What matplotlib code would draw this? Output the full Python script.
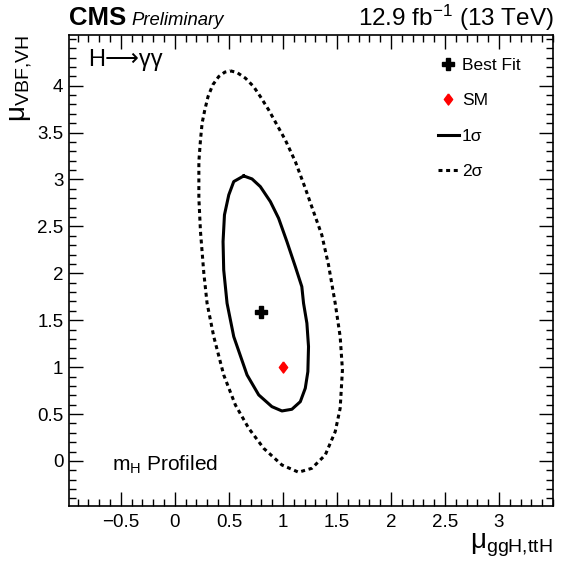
import numpy as np
import matplotlib
matplotlib.use("Agg")
import matplotlib.pyplot as plt
from matplotlib.lines import Line2D
from matplotlib.ticker import MultipleLocator

plt.rcParams['font.family'] = ['Liberation Sans', 'DejaVu Sans']
plt.rcParams['mathtext.fontset'] = 'custom'
plt.rcParams['mathtext.rm'] = 'Liberation Sans'
plt.rcParams['mathtext.it'] = 'Liberation Sans:italic'

# contour points (mu_ggH,ttH , mu_VBF,VH)
sig1_x = [0.637, 0.714, 0.791, 0.884, 0.960, 1.037, 1.115, 1.175, 1.191, 1.222, 1.237,
          1.231, 1.207, 1.161, 1.083, 0.991, 0.898, 0.776, 0.668, 0.545, 0.483, 0.452,
          0.446, 0.459, 0.499, 0.545, 0.637]
sig1_y = [3.038, 3.006, 2.924, 2.764, 2.587, 2.338, 2.071, 1.858, 1.681, 1.468, 1.219,
          0.952, 0.775, 0.632, 0.551, 0.533, 0.579, 0.704, 0.917, 1.325, 1.681, 2.036,
          2.338, 2.623, 2.836, 2.978, 3.038]

sig2_x = [0.514, 0.575, 0.653, 0.729, 0.791, 0.868, 0.945, 1.022, 1.115, 1.207, 1.283,
          1.360, 1.422, 1.484, 1.530, 1.551, 1.530, 1.484, 1.392, 1.268, 1.145, 0.991,
          0.822, 0.683, 0.560, 0.452, 0.360, 0.298, 0.268, 0.237, 0.222, 0.222, 0.237,
          0.252, 0.277, 0.307, 0.351, 0.406, 0.462, 0.514]
sig2_y = [4.158, 4.140, 4.080, 3.990, 3.884, 3.742, 3.582, 3.422, 3.191, 2.907, 2.658,
          2.409, 2.090, 1.681, 1.325, 0.970, 0.562, 0.312, 0.064, -0.078, -0.120, -0.043,
          0.135, 0.349, 0.597, 0.917, 1.325, 1.681, 2.001, 2.445, 2.801, 3.191, 3.422,
          3.600, 3.742, 3.884, 4.009, 4.097, 4.144, 4.158]

best_fit = (0.80, 1.59)
sm_point = (1.0, 1.0)

diamond = [(0, 1), (0.75, 0), (0, -1), (-0.75, 0), (0, 1)]
dash = (0, (1.3, 1.2))

fig = plt.figure(figsize=(5.61, 5.68), dpi=100)
ax = fig.add_axes([69/561, 1-506/568, (553-69)/561, (506-35)/568])

ax.plot(sig2_x, sig2_y, color='black', lw=2.2, linestyle=dash)
ax.plot(sig1_x, sig1_y, color='black', lw=2.2)
ax.plot(best_fit[0], best_fit[1], marker='P', color='black', ms=9, ls='none')
ax.plot(sm_point[0], sm_point[1], marker=diamond, color='red', ms=8, ls='none')

ax.set_xlim(-0.98, 3.5)
ax.set_ylim(-0.48, 4.54)
ax.set_xticks([-0.5, 0, 0.5, 1, 1.5, 2, 2.5, 3])
ax.set_xticklabels(['\u22120.5', '0', '0.5', '1', '1.5', '2', '2.5', '3'])
ax.set_yticks([0, 0.5, 1, 1.5, 2, 2.5, 3, 3.5, 4])
ax.set_yticklabels(['0', '0.5', '1', '1.5', '2', '2.5', '3', '3.5', '4'])
ax.xaxis.set_minor_locator(MultipleLocator(0.1))
ax.yaxis.set_minor_locator(MultipleLocator(0.1))
ax.tick_params(which='both', direction='in', top=True, right=True, width=1, labelsize=13.5)
ax.tick_params(which='major', length=10)
ax.tick_params(which='minor', length=5)
ax.tick_params(axis='x', pad=6)
ax.tick_params(axis='y', pad=4)
for s in ax.spines.values():
    s.set_linewidth(1.2)

ax.set_xlabel(r'$\mathrm{μ_{ggH{,}ttH}}$', fontsize=20, loc='right', labelpad=0)
ax.set_ylabel(r'$\mathrm{μ_{VBF{,}VH}}$', fontsize=20, loc='top', labelpad=2)

ax.text(0.039, 0.934, 'H\u27f6\u03b3\u03b3', transform=ax.transAxes, fontsize=17, va='baseline', ha='left')
ax.text(0.089, 0.074, r'm$_\mathrm{H}$ Profiled', transform=ax.transAxes, fontsize=15, va='baseline', ha='left')

fig.text(69/561, 1-25/568, 'CMS', fontsize=18.5, fontweight='bold', va='baseline', ha='left')
fig.text(131/561, 1-25/568, 'Preliminary', fontsize=13.3, style='italic', va='baseline', ha='left')
fig.text(554/561, 1-26/568, r'12.9 fb$^{-1}$ (13 TeV)', fontsize=17.5, va='baseline', ha='right')

handles = [
    Line2D([], [], marker='P', color='black', ms=9, ls='none'),
    Line2D([], [], marker=diamond, color='red', ms=8, ls='none'),
    Line2D([], [], color='black', lw=2.2),
    Line2D([], [], color='black', lw=2.2, linestyle=dash),
]
ax.legend(handles, ['Best Fit', 'SM', '1\u03c3', '2\u03c3'], loc='upper right', frameon=False,
          fontsize=12.5, handlelength=1.2, handletextpad=0.2, labelspacing=1.17,
          borderaxespad=0.6, bbox_to_anchor=(0.969, 0.989))

fig.savefig('out.png', dpi=100)
